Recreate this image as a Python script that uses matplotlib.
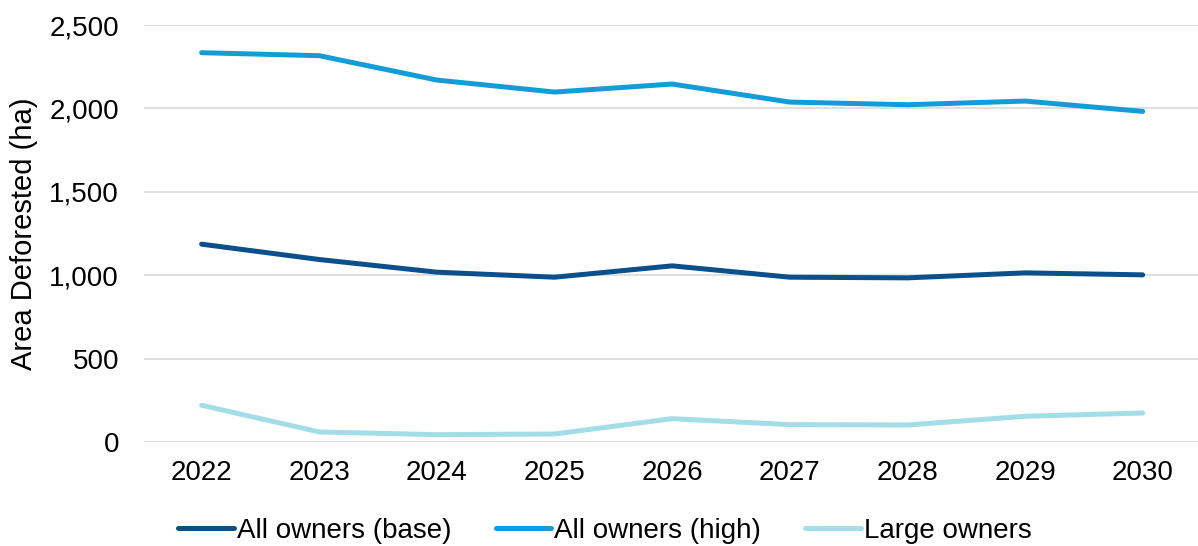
import matplotlib.pyplot as plt
from matplotlib.ticker import FuncFormatter

plt.rcParams["font.family"] = ["Liberation Sans", "DejaVu Sans"]

years = ["2022", "2023", "2024", "2025", "2026", "2027", "2028", "2029", "2030"]
all_base = [1186, 1094, 1018, 988, 1056, 988, 984, 1014, 1002]
all_high = [2334, 2316, 2170, 2098, 2146, 2038, 2022, 2044, 1982]
large = [220, 60, 44, 48, 140, 104, 102, 154, 174]

series = [
    ("All owners (base)", all_base, "#0B4F8B"),
    ("All owners (high)", all_high, "#149CD8"),
    ("Large owners", large, "#A3DDE8"),
]

fig = plt.figure(figsize=(11.98, 5.46), dpi=100)
ax = fig.add_axes([0.1202, 0.1905, 0.8798, 0.7637])

x = range(len(years))
for name, vals, col in series:
    ax.plot(x, vals, color=col, lw=3.6, solid_capstyle="round",
            solid_joinstyle="round", label=name)

ax.set_xlim(-0.49, 8.47)
ax.set_ylim(0, 2500)
ax.set_yticks(range(0, 2501, 500))
ax.yaxis.set_major_formatter(FuncFormatter(lambda v, p: f"{int(v):,}"))
ax.set_xticks(list(x))
ax.set_xticklabels(years)
ax.grid(axis="y", color="#D9D9D9", lw=1.2)
ax.set_axisbelow(True)
for s in ax.spines.values():
    s.set_visible(False)
ax.tick_params(axis="both", length=0, labelsize=20)
ax.tick_params(axis="x", pad=13)
ax.tick_params(axis="y", pad=18)
ax.set_ylabel("Area Deforested (ha)", fontsize=21, labelpad=8)

fig.legend(loc="center", bbox_to_anchor=(0.505, 1 - 531 / 546), ncol=3,
           frameon=False, fontsize=20, handlelength=2.0, handletextpad=0.1,
           columnspacing=1.6)

fig.savefig("out.png", dpi=100)
